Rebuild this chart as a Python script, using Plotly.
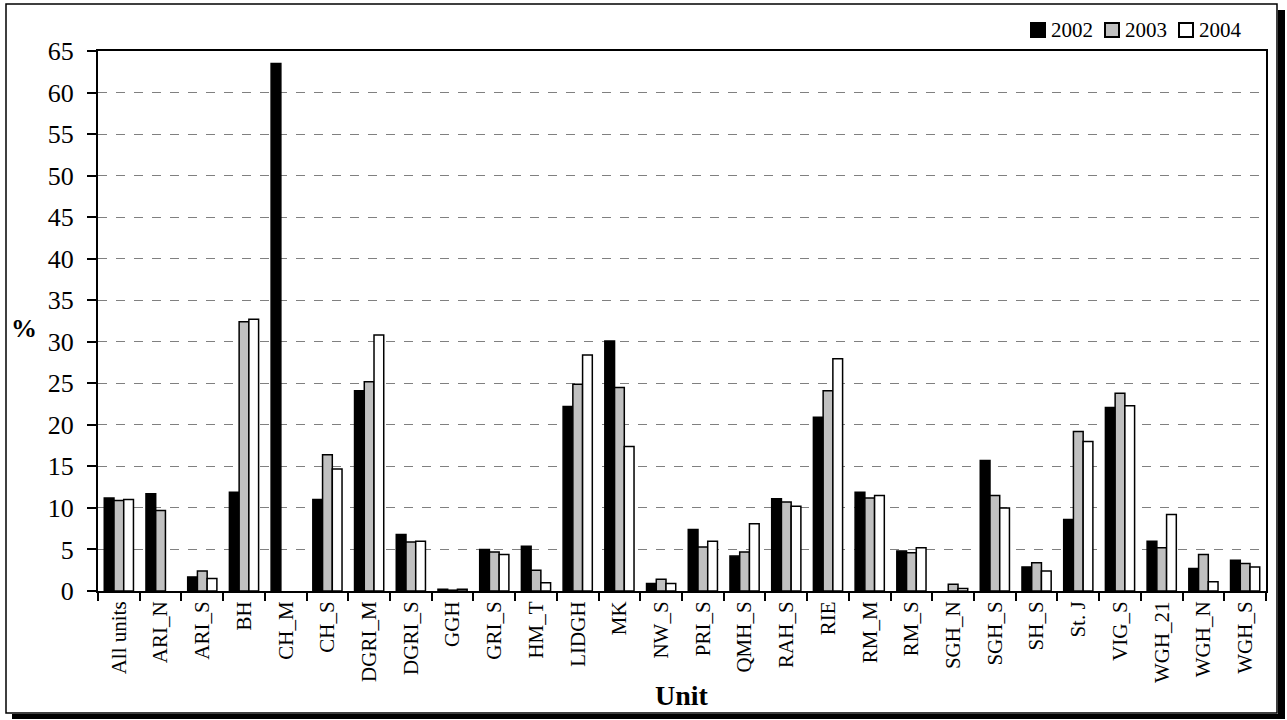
import plotly.graph_objects as go

units = ["All units", "ARI_N", "ARI_S", "BH", "CH_M", "CH_S", "DGRI_M", "DGRI_S", "GGH",
         "GRI_S", "HM_T", "LIDGH", "MK", "NW_S", "PRI_S", "QMH_S", "RAH_S", "RIE", "RM_M",
         "RM_S", "SGH_N", "SGH_S", "SH_S", "St. J", "VIG_S", "WGH_21", "WGH_N", "WGH_S"]

y2002 = [11.2, 11.7, 1.7, 11.9, 63.5, 11.0, 24.1, 6.8, 0.2, 5.0, 5.4, 22.2, 30.1, 0.9, 7.4, 4.2,
         11.1, 20.9, 11.9, 4.8, None, 15.7, 2.9, 8.6, 22.1, 6.0, 2.7, 3.7]
y2003 = [10.9, 9.7, 2.4, 32.4, None, 16.4, 25.2, 5.9, 0.1, 4.7, 2.5, 24.9, 24.5, 1.4, 5.3, 4.7,
         10.7, 24.1, 11.2, 4.6, 0.8, 11.5, 3.4, 19.2, 23.8, 5.2, 4.4, 3.3]
y2004 = [11.0, None, 1.5, 32.7, None, 14.7, 30.8, 6.0, 0.2, 4.4, 1.0, 28.4, 17.4, 0.9, 6.0, 8.1,
         10.2, 27.95, 11.5, 5.2, 0.3, 10.0, 2.4, 18.0, 22.3, 9.2, 1.1, 2.9]

years = ["2002", "2003", "2004"]
colors = ["black", "#C0C0C0", "white"]
values = [y2002, y2003, y2004]

FONT = "Liberation Serif"
W, H = 1287, 720
L, R, T, B = 98, 21, 51, 129
pw, ph = W - L - R, H - T - B

def px(x):
    return (x - L) / pw

def py(y):
    return (H - B - y) / ph

fig = go.Figure()
for name, vals, col in zip(years, values, colors):
    fig.add_trace(go.Bar(x=units, y=vals, name=name,
                         marker=dict(color=col, line=dict(color="black", width=1.5))))

fig.update_layout(
    width=W, height=H,
    margin=dict(l=L, r=R, t=T, b=B),
    paper_bgcolor="white", plot_bgcolor="white",
    barmode="group", bargap=0.3, bargroupgap=0,
    font=dict(family=FONT, color="black"),
    showlegend=False,
)
fig.update_xaxes(
    type="category", tickson="boundaries", ticks="outside", ticklen=8, tickwidth=2, tickcolor="black",
    showline=True, linecolor="black", linewidth=2, mirror=True,
    tickangle=-90, tickfont=dict(family=FONT, size=21),
    showgrid=False,
)
fig.update_yaxes(
    range=[0, 65], dtick=5, tick0=0, ticks="outside", ticklen=9, tickwidth=2, tickcolor="black",
    showline=True, linecolor="black", linewidth=2, mirror=True,
    tickfont=dict(family=FONT, size=26), ticklabelstandoff=8,
    showgrid=True, gridcolor="#808080", gridwidth=1, griddash="dash",
    zeroline=False,
)

# axis titles
fig.add_annotation(text="<b>%</b>", x=px(24), y=py(328), xref="paper", yref="paper",
                   xanchor="center", yanchor="middle",
                   showarrow=False, font=dict(family=FONT, size=26))
fig.add_annotation(text="<b>Unit</b>", x=0.5, y=py(695), xref="paper", yref="paper",
                   xanchor="center", yanchor="middle",
                   showarrow=False, font=dict(family=FONT, size=28))

# legend (drawn as small boxes + labels, like the original)
leg_x0, leg_pitch, leg_y = 1031, 74, 30
for i, (name, col) in enumerate(zip(years, colors)):
    x0 = leg_x0 + i * leg_pitch
    fig.add_shape(type="rect", xref="paper", yref="paper",
                  x0=px(x0), x1=px(x0 + 14), y0=py(leg_y + 7), y1=py(leg_y - 7),
                  line=dict(color="black", width=2), fillcolor=col)
    fig.add_annotation(text=name, x=px(x0 + 18), y=py(leg_y), xref="paper", yref="paper",
                       xanchor="left", yanchor="middle", showarrow=False,
                       font=dict(family=FONT, size=21))

# outer frame with shadow
fig.add_shape(type="rect", xref="paper", yref="paper", x0=px(6), x1=px(1277), y0=py(713), y1=py(4),
              line=dict(color="black", width=1.5), fillcolor="rgba(0,0,0,0)", layer="above")
fig.add_shape(type="rect", xref="paper", yref="paper", x0=px(1278), x1=px(1285), y0=py(719), y1=py(10),
              line=dict(width=0), fillcolor="black", layer="above")
fig.add_shape(type="rect", xref="paper", yref="paper", x0=px(12), x1=px(1285), y0=py(719), y1=py(714),
              line=dict(width=0), fillcolor="black", layer="above")

fig.write_html("out.html", config={"displayModeBar": False},
               post_script="document.body.style.margin='0';document.body.style.overflow='hidden';")
